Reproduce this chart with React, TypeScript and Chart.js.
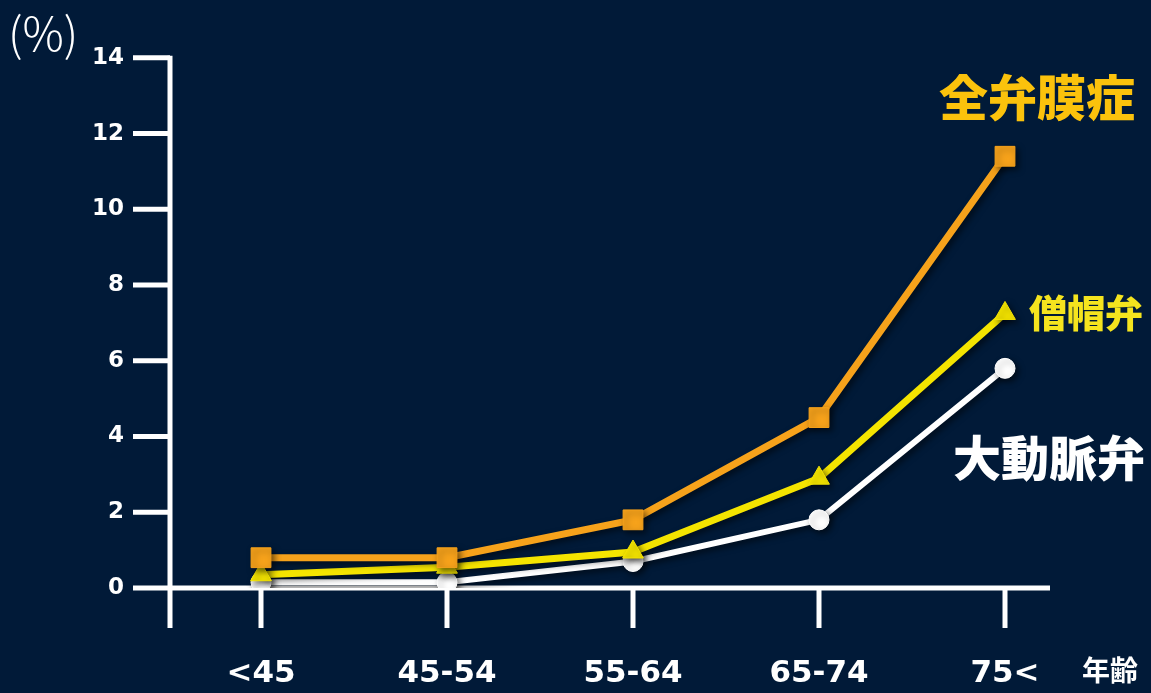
import React, { useEffect, useRef } from 'react';
import { Chart, registerables } from 'chart.js';

Chart.register(...registerables);

const categories = ['<45', '45-54', '55-64', '65-74', '75<'];
const allValves = [0.8, 0.8, 1.8, 4.5, 11.4];
const mitral = [0.35, 0.55, 0.95, 2.9, 7.25];
const aortic = [0.15, 0.15, 0.7, 1.8, 5.8];
const yTickValues = [0, 2, 4, 6, 8, 10, 12, 14];
const seriesNames = ['全弁膜症', '僧帽弁', '大動脈弁'];
const unitLabel = '(%)';
const xAxisTitle = '年齢';

const BG = '#011a38';
const ORANGE = '#f6a21b';
const YELLOW = '#f4e400';
const WHITE = '#ffffff';
const LABEL_GOLD = '#fbc20c';
const LABEL_YELLOW = '#f5e41e';
const JP_FONT = '"Noto Sans CJK JP", "Noto Sans", sans-serif';
const NUM_FONT = '"DejaVu Sans", sans-serif';

const axesPlugin = {
  id: 'customAxes',
  beforeDatasetsDraw(chart: any) {
    const { ctx, chartArea, scales } = chart;
    const x = scales.x;
    const y = scales.y;
    ctx.save();
    ctx.strokeStyle = WHITE;
    ctx.lineWidth = 5;
    ctx.lineCap = 'butt';
    const axisX = chartArea.left + 2;
    const axisY = y.getPixelForValue(0);
    ctx.beginPath();
    ctx.moveTo(axisX, y.getPixelForValue(14) - 2);
    ctx.lineTo(axisX, axisY + 40);
    ctx.stroke();
    const lastX = x.getPixelForValue(categories.length - 1);
    ctx.beginPath();
    ctx.moveTo(chartArea.left, axisY);
    ctx.lineTo(lastX + 45, axisY);
    ctx.stroke();
    yTickValues.forEach((v) => {
      const py = y.getPixelForValue(v);
      ctx.beginPath();
      ctx.moveTo(chartArea.left - 35, py);
      ctx.lineTo(chartArea.left + 2, py);
      ctx.stroke();
    });
    categories.forEach((_, i) => {
      const px = x.getPixelForValue(i);
      ctx.beginPath();
      ctx.moveTo(px, axisY);
      ctx.lineTo(px, axisY + 40);
      ctx.stroke();
    });
    ctx.restore();
  },
  afterDraw(chart: any) {
    const { ctx } = chart;
    ctx.save();
    ctx.textBaseline = 'middle';
    ctx.textAlign = 'left';
    ctx.fillStyle = WHITE;
    ctx.font = `300 46px ${JP_FONT}`;
    ctx.fillText(unitLabel, 8, 34);
    ctx.font = `700 28px ${JP_FONT}`;
    ctx.fillText(xAxisTitle, 1082, 670);

    ctx.font = `900 49px ${JP_FONT}`;
    ctx.fillStyle = LABEL_GOLD;
    ctx.fillText(seriesNames[0], 939, 97);
    ctx.font = `900 38px ${JP_FONT}`;
    ctx.fillStyle = LABEL_YELLOW;
    ctx.fillText(seriesNames[1], 1029, 313);
    ctx.font = `900 48px ${JP_FONT}`;
    ctx.fillStyle = WHITE;
    ctx.fillText(seriesNames[2], 953, 458);
    ctx.restore();
  },
};

const shadowPlugin = {
  id: 'lineShadow',
  beforeDatasetDraw(chart: any) {
    const ctx = chart.ctx;
    ctx.save();
    ctx.shadowColor = 'rgba(0,0,0,0.55)';
    ctx.shadowBlur = 6;
    ctx.shadowOffsetX = 3;
    ctx.shadowOffsetY = 3;
  },
  afterDatasetDraw(chart: any) {
    chart.ctx.restore();
  },
};

export default function App() {
  const canvasRef = useRef<HTMLCanvasElement | null>(null);

  useEffect(() => {
    const canvas = canvasRef.current;
    if (!canvas) return;
    const chart = new Chart(canvas, {
      type: 'line',
      data: {
        labels: categories,
        datasets: [
          {
            label: seriesNames[0],
            data: allValves,
            borderColor: ORANGE,
            backgroundColor: ORANGE,
            borderWidth: 7,
            pointStyle: 'rect',
            pointRadius: 14,
            pointBorderWidth: 1,
            order: 1,
          },
          {
            label: seriesNames[1],
            data: mitral,
            borderColor: YELLOW,
            backgroundColor: YELLOW,
            borderWidth: 7,
            pointStyle: 'triangle',
            pointRadius: 12,
            pointBorderWidth: 1,
            order: 2,
          },
          {
            label: seriesNames[2],
            data: aortic,
            borderColor: WHITE,
            backgroundColor: WHITE,
            borderWidth: 6,
            pointStyle: 'circle',
            pointRadius: 10,
            pointBorderWidth: 1,
            order: 3,
          },
        ],
      },
      options: {
        animation: false,
        responsive: false,
        maintainAspectRatio: false,
        layout: { padding: { top: 53, right: 53, left: 0, bottom: 0 } },
        plugins: {
          legend: { display: false },
          tooltip: { enabled: false },
        },
        elements: { line: { tension: 0 } },
        scales: {
          x: {
            type: 'category',
            offset: true,
            grid: { display: false, drawTicks: false },
            border: { display: false },
            ticks: {
              color: WHITE,
              padding: 67,
              font: { family: NUM_FONT, size: 31, weight: 'bold' },
              maxRotation: 0,
            },
            afterFit: (s: any) => {
              s.height = 105;
            },
          },
          y: {
            min: 0,
            max: 14,
            grid: { display: false, drawTicks: false },
            border: { display: false },
            ticks: {
              stepSize: 2,
              color: WHITE,
              padding: 44,
              font: { family: NUM_FONT, size: 23, weight: 'bold' },
            },
            afterFit: (s: any) => {
              s.width = 168;
            },
          },
        },
      },
      plugins: [axesPlugin, shadowPlugin],
    });
    return () => chart.destroy();
  }, []);

  return (
    <div
      style={{
        position: 'fixed',
        left: 0,
        top: 0,
        width: 1151,
        height: 693,
        background: BG,
      }}
    >
      <canvas ref={canvasRef} width={1151} height={693} style={{ display: 'block' }} />
    </div>
  );
}
